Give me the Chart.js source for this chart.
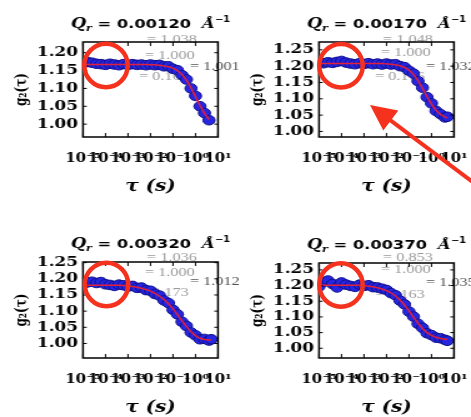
<!DOCTYPE html>
<html>
<head>
<meta charset="utf-8">
<script src="https://cdn.jsdelivr.net/npm/chart.js@4.4.1/dist/chart.umd.min.js"></script>
<style>
  html, body { margin: 0; padding: 0; background: #fff; }
  #page { position: relative; width: 471px; height: 417px; overflow: hidden; background: #fff; }
  .panel { position: absolute; transform-origin: 0 0; transform: scaleX(1.25); }
  .panel canvas { display: block; }
  #marks { position: absolute; left: 0; top: 0; pointer-events: none; }
</style>
</head>
<body>
<div id="page">
  <div class="panel" style="left:0;top:0"><canvas id="c0" width="192" height="205"></canvas></div>
  <div class="panel" style="left:236px;top:0"><canvas id="c1" width="192" height="205"></canvas></div>
  <div class="panel" style="left:0;top:200px"><canvas id="c2" width="192" height="217"></canvas></div>
  <div class="panel" style="left:236px;top:200px"><canvas id="c3" width="192" height="217"></canvas></div>
  <canvas id="marks" width="471" height="417"></canvas>
</div>
<script>
// delay times (s), shared by all four q rings
const tau = [
  1e-5, 1.58e-5, 2.51e-5, 3.98e-5, 6.31e-5,
  1e-4, 1.58e-4, 2.51e-4, 3.98e-4, 6.31e-4,
  1e-3, 1.58e-3, 2.51e-3, 3.98e-3, 6.31e-3,
  1e-2, 1.58e-2, 2.51e-2, 3.98e-2, 6.31e-2,
  0.1, 0.158, 0.251, 0.398, 0.631,
  1, 1.58, 2.51, 3.98, 5.01
];

// measured g2 per q
const g2Data1 = [1.171, 1.174, 1.172, 1.169, 1.168, 1.166, 1.169, 1.167, 1.165, 1.168,
  1.166, 1.168, 1.166, 1.167, 1.165, 1.167, 1.165, 1.166, 1.162, 1.162,
  1.155, 1.151, 1.137, 1.125, 1.100, 1.079, 1.050, 1.031, 1.011, null];
const g2Data2 = [1.211, 1.209, 1.212, 1.210, 1.213, 1.216, 1.211, 1.208, 1.206, 1.209,
  1.207, 1.209, 1.206, 1.208, 1.205, 1.208, 1.205, 1.206, 1.200, 1.197,
  1.186, 1.177, 1.154, 1.134, 1.105, 1.086, 1.063, 1.053, 1.043, 1.045];
const g2Data3 = [1.184, 1.189, 1.191, 1.187, 1.190, 1.183, 1.181, 1.178, 1.182, 1.180,
  1.176, 1.178, 1.172, 1.173, 1.165, 1.163, 1.153, 1.148, 1.133, 1.125,
  1.104, 1.090, 1.067, 1.054, 1.034, 1.025, 1.013, 1.014, 1.009, 1.013];
const g2Data4 = [1.197, 1.212, 1.216, 1.205, 1.194, 1.210, 1.203, 1.199, 1.196, 1.203,
  1.199, 1.201, 1.195, 1.194, 1.190, 1.186, 1.176, 1.169, 1.152, 1.140,
  1.117, 1.101, 1.078, 1.065, 1.048, 1.042, 1.034, 1.032, 1.027, 1.024];

// stretched-exponential fits
const g2Fit1 = [1.167, 1.167, 1.167, 1.167, 1.167, 1.167, 1.167, 1.167, 1.167, 1.167,
  1.167, 1.167, 1.167, 1.167, 1.167, 1.166, 1.166, 1.165, 1.163, 1.161,
  1.157, 1.150, 1.139, 1.123, 1.102, 1.077, 1.052, 1.030, 1.013, null];
const g2Fit2 = [1.208, 1.208, 1.208, 1.208, 1.208, 1.208, 1.208, 1.208, 1.208, 1.208,
  1.208, 1.208, 1.208, 1.208, 1.208, 1.207, 1.206, 1.204, 1.201, 1.196,
  1.188, 1.175, 1.156, 1.132, 1.107, 1.084, 1.065, 1.052, 1.044, 1.042];
const g2Fit3 = [1.180, 1.180, 1.180, 1.180, 1.180, 1.180, 1.180, 1.180, 1.180, 1.179,
  1.178, 1.176, 1.174, 1.171, 1.167, 1.162, 1.155, 1.146, 1.136, 1.123,
  1.107, 1.089, 1.070, 1.052, 1.036, 1.024, 1.016, 1.012, 1.011, 1.011];
const g2Fit4 = [1.201, 1.201, 1.201, 1.201, 1.201, 1.201, 1.201, 1.201, 1.201, 1.201,
  1.200, 1.198, 1.196, 1.193, 1.189, 1.184, 1.177, 1.167, 1.154, 1.138,
  1.119, 1.099, 1.080, 1.063, 1.050, 1.041, 1.035, 1.031, 1.029, 1.028];

const qLabels = ['0.00120', '0.00170', '0.00320', '0.00370'];
const fitTau = ['1.038', '1.048', '1.036', '0.853'];
const fitAlpha = ['1.000', '1.000', '1.000', '1.000'];
const fitBaseline = ['1.001', '1.032', '1.012', '1.035'];
const fitBeta = ['0.166', '0.176', '0.173', '0.163'];

const xTicks = [1e-5, 1e-4, 1e-3, 1e-2, 1e-1, 1, 10];
const xTickLabels = ['10⁻⁵', '10⁻⁴', '10⁻³', '10⁻²', '10⁻¹', '10⁰', '10¹'];
const yTicksShort = [1.00, 1.05, 1.10, 1.15, 1.20];
const yTicksLong = [1.00, 1.05, 1.10, 1.15, 1.20, 1.25];
const yRanges = [[0.964, 1.230], [0.983, 1.274], [0.955, 1.252], [0.969, 1.272]];

const panels = [
  { id: 'c0', data: g2Data1, fit: g2Fit1, yTicks: yTicksShort, padTop: 42, padBottom: 9, textDy: [-2, 14, 25, 35] },
  { id: 'c1', data: g2Data2, fit: g2Fit2, yTicks: yTicksLong, padTop: 42, padBottom: 9, textDy: [-2, 11, 25, 35] },
  { id: 'c2', data: g2Data3, fit: g2Fit3, yTicks: yTicksLong, padTop: 62, padBottom: 0, textDy: [-4, 11, 20, 31] },
  { id: 'c3', data: g2Data4, fit: g2Fit4, yTicks: yTicksLong, padTop: 63, padBottom: 0, textDy: [-5, 7, 20, 32] },
];

const X_TICK_FONT = { family: 'DejaVu Serif', weight: 'bold', size: 12 };
const Y_TICK_FONT = { family: 'DejaVu Serif', weight: 'bold', size: 13.5 };

function drawTitle(ctx, area, q) {
  const parts = [
    { t: 'Q', f: 'bold italic 14px "DejaVu Serif"', dy: 0 },
    { t: 'r', f: 'bold italic 9px "DejaVu Serif"', dy: 3 },
    { t: ' = ' + q + '  ', f: 'bold 13px "DejaVu Sans"', dy: 0 },
    { t: 'Å', f: 'bold italic 13px "DejaVu Serif"', dy: 0 },
    { t: '−1', f: 'bold 8px "DejaVu Sans"', dy: -6 },
  ];
  ctx.save();
  ctx.fillStyle = '#000';
  ctx.textBaseline = 'alphabetic';
  let total = 0;
  parts.forEach((p) => {
    ctx.font = p.f;
    p.w = ctx.measureText(p.t).width;
    total += p.w;
  });
  let x = (area.left + area.right) / 2 - total / 2;
  const y = area.top - 14;
  parts.forEach((p) => {
    ctx.font = p.f;
    ctx.fillText(p.t, x, y + p.dy);
    x += p.w;
  });
  ctx.restore();
}

function drawFitText(ctx, area, idx, dys) {
  const values = [fitTau[idx], fitAlpha[idx], fitBaseline[idx], fitBeta[idx]];
  const dxs = [51.2, 49.6, 85.6, 44.8];
  ctx.save();
  ctx.font = '13px "Liberation Serif"';
  ctx.textBaseline = 'middle';
  ctx.textAlign = 'left';
  values.forEach((v, i) => {
    ctx.fillStyle = i === 2 ? '#555' : '#9a9a9a';
    ctx.fillText('= ' + v, area.left + dxs[i], area.top + dys[i]);
  });
  ctx.restore();
}

function drawFrame(chart) {
  const { ctx, chartArea: a, scales } = chart;
  ctx.save();
  ctx.strokeStyle = '#000';
  ctx.lineWidth = 1;
  ctx.beginPath();
  scales.x.ticks.forEach((t) => {
    const px = scales.x.getPixelForValue(t.value);
    ctx.moveTo(px, a.bottom); ctx.lineTo(px, a.bottom - 4);
    ctx.moveTo(px, a.top); ctx.lineTo(px, a.top + 4);
  });
  scales.y.ticks.forEach((t) => {
    const py = scales.y.getPixelForValue(t.value);
    ctx.moveTo(a.left, py); ctx.lineTo(a.left + 3, py);
    ctx.moveTo(a.right, py); ctx.lineTo(a.right - 3, py);
  });
  ctx.stroke();
  ctx.lineWidth = 1.5;
  ctx.strokeRect(a.left, a.top, a.right - a.left, a.bottom - a.top);
  ctx.restore();
}

panels.forEach((p, idx) => {
  const canvas = document.getElementById(p.id);

  const decor = {
    id: 'decor' + idx,
    beforeDatasetsDraw(chart) {
      drawFitText(chart.ctx, chart.chartArea, idx, p.textDy);
    },
    afterDatasetsDraw(chart) {
      drawFrame(chart);
      drawTitle(chart.ctx, chart.chartArea, qLabels[idx]);
    },
  };

  new Chart(canvas.getContext('2d'), {
    type: 'scatter',
    data: {
      datasets: [
        {
          label: 'fit',
          data: tau.map((t, i) => ({ x: t, y: p.fit[i] })),
          showLine: true,
          borderColor: '#e0203c',
          borderWidth: 1.5,
          pointRadius: 0,
          fill: false,
          clip: 0,
        },
        {
          label: 'g2',
          data: tau.map((t, i) => ({ x: t, y: p.data[i] })),
          showLine: false,
          pointRadius: 4.8,
          backgroundColor: '#2626e0',
          borderColor: '#10108a',
          borderWidth: 1,
          clip: 0,
        },
      ],
    },
    options: {
      responsive: false,
      animation: false,
      events: [],
      layout: { padding: { left: 0, right: 17.6, top: p.padTop, bottom: p.padBottom } },
      plugins: { legend: { display: false }, tooltip: { enabled: false } },
      scales: {
        x: {
          type: 'logarithmic',
          min: 1e-5,
          max: 10,
          grid: { display: false, drawTicks: false },
          border: { display: false },
          afterBuildTicks: (s) => { s.ticks = xTicks.map((v) => ({ value: v, major: true })); },
          afterFit: (s) => { s.height = 59; s.paddingLeft = 0; s.paddingRight = 0; },
          ticks: {
            autoSkip: false, maxRotation: 0, minRotation: 0, padding: 15,
            color: '#000', font: X_TICK_FONT,
            callback: (v, i) => xTickLabels[i],
          },
          title: {
            display: true, text: 'τ (s)', color: '#000',
            font: { family: 'DejaVu Serif', style: 'italic', weight: 'bold', size: 16 },
            padding: { top: 0, bottom: 0 },
          },
        },
        y: {
          min: yRanges[idx][0],
          max: yRanges[idx][1],
          grid: { display: false, drawTicks: false },
          border: { display: false },
          afterBuildTicks: (s) => { s.ticks = p.yTicks.map((v) => ({ value: v })); },
          afterFit: (s) => { s.width = 66.4; s.paddingTop = 0; s.paddingBottom = 0; },
          ticks: {
            autoSkip: false, padding: 4, color: '#000', font: Y_TICK_FONT,
            callback: (v) => Number(v).toFixed(2),
          },
          title: {
            display: true, text: 'g₂(τ)', color: '#000',
            font: { family: 'DejaVu Serif', weight: 'bold', size: 12 },
            padding: { top: 11, bottom: 0 },
          },
        },
      },
    },
    plugins: [decor],
  });
});

// red highlight rings on the short-time plateau and the pointer arrow
const mk = document.getElementById('marks').getContext('2d');
const RED = '#f4321e';
const rings = [[106, 65.5], [341, 65.7], [106.5, 284.5], [341, 285]];
mk.strokeStyle = RED;
mk.lineWidth = 4.5;
rings.forEach(([cx, cy]) => {
  mk.beginPath();
  mk.arc(cx, cy, 21.7, 0, Math.PI * 2);
  mk.stroke();
});

const tip = [370, 105];
const tail = [482, 189];
const dx = tip[0] - tail[0], dy = tip[1] - tail[1];
const len = Math.hypot(dx, dy);
const ux = dx / len, uy = dy / len;
const headLen = 26, headHalf = 12.5;
const bx = tip[0] - ux * headLen, by = tip[1] - uy * headLen;
mk.lineWidth = 4;
mk.beginPath();
mk.moveTo(tail[0], tail[1]);
mk.lineTo(bx + ux * 2, by + uy * 2);
mk.stroke();
mk.fillStyle = RED;
mk.beginPath();
mk.moveTo(tip[0], tip[1]);
mk.lineTo(bx - uy * headHalf, by + ux * headHalf);
mk.lineTo(bx + uy * headHalf, by - ux * headHalf);
mk.closePath();
mk.fill();
</script>
</body>
</html>
